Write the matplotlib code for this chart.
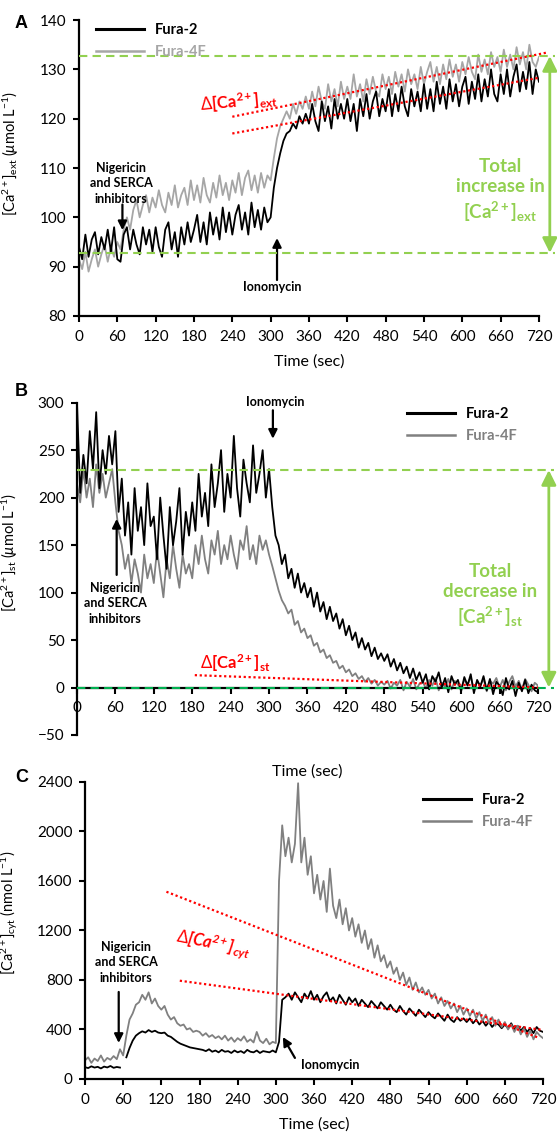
import numpy as np
import matplotlib
matplotlib.use("Agg")
import matplotlib.pyplot as plt
from matplotlib.lines import Line2D

plt.rcParams['font.family'] = ['Lato', 'DejaVu Sans']
plt.rcParams['mathtext.fontset'] = 'custom'
plt.rcParams['mathtext.rm'] = 'Lato'
plt.rcParams['mathtext.it'] = 'Lato:italic'
plt.rcParams['mathtext.bf'] = 'Lato:bold'
plt.rcParams['mathtext.bfit'] = 'Lato:bold:italic'

# one reading every 5 s
time_s = np.arange(0, 721, 5)
time_ticks = np.arange(0, 721, 60)

# extracellular Ca2+ (umol/L)
fura2_ext = [
    94, 91.5, 96.5, 92, 95.5, 97, 92.5, 96, 93.5, 97.5, 93, 98,
    91.5, 91, 96.5, 98, 93.5, 97.5, 94.5, 92.5, 98, 94.5, 97.5, 93,
    98, 94, 92, 97.5, 99, 93.5, 97, 92, 98, 94.5, 99, 95,
    97.5, 100.5, 95, 99, 94.5, 101, 96.5, 100, 95.5, 102, 97, 101,
    96.5, 100.5, 102.5, 97.5, 101, 96.5, 103, 98, 101.5, 97.5, 102, 99,
    100, 106, 110, 113, 115.5, 117, 117.5, 119, 118, 120.5, 119, 121,
    119, 123, 119.5, 117.5, 123.5, 119.5, 122.5, 118, 124, 120, 123, 120,
    124, 119.5, 123, 117.5, 124, 120.5, 125, 120, 123.5, 125.5, 120.5, 124,
    121.5, 126, 120.5, 125, 121.5, 126.5, 122.5, 120.5, 126, 122.5, 125.5, 121.5,
    127, 122, 126, 121.5, 127.5, 123, 126.5, 122, 128, 123.5, 127, 122.5,
    126.5, 128.5, 123, 127.5, 124, 129, 123.5, 128, 124.5, 130, 125, 123.5,
    129, 125, 130, 124.5, 128.5, 131, 125.5, 129.5, 126, 131.5, 125, 130,
    127.5,
]
fura4f_ext = [
    91.5, 89.5, 93, 89, 91.5, 93.5, 90, 92.5, 94.5, 91, 94, 92,
    95, 93.5, 97.5, 100, 97.5, 101.5, 103.5, 100, 102.5, 104.5, 101, 104,
    102, 105.5, 102.5, 101, 105, 102.5, 106.5, 102, 104.5, 106, 102.5, 107.5,
    103.5, 106.5, 103, 108, 104.5, 103, 107, 104, 108.5, 104.5, 107, 103.5,
    107.5, 105, 109, 104.5, 108, 109.5, 105.5, 108.5, 105, 109, 106, 108.5,
    107.5, 112, 116, 118.5, 120, 121.5, 120, 123, 121, 123.5, 122, 124.5,
    122, 125.5, 122.5, 126.5, 123.5, 122, 127, 123.5, 126, 122.5, 127.5, 124,
    126.5, 124, 129, 124.5, 127, 123.5, 128, 125, 128.5, 125.5, 124.5, 129,
    126, 128.5, 125, 129.5, 126.5, 129, 125.5, 130, 127, 129, 126, 130.5,
    127, 129.5, 131.5, 127.5, 130.5, 127, 131, 128, 132, 128.5, 131, 127.5,
    131.5, 129, 132.5, 129.5, 128, 133, 129.5, 132, 129, 133.5, 130.5, 132.5,
    129.5, 134, 130.5, 133, 130, 134.5, 131, 133.5, 130, 135, 131.5, 130.5,
    132.5,
]

# store Ca2+ (umol/L)
fura2_st = [
    300, 205, 245, 215, 270, 230, 290, 210, 250, 225, 265, 235,
    270, 185, 220, 160, 195, 140, 210, 165, 190, 150, 215, 170,
    180, 135, 200, 160, 125, 190, 150, 175, 210, 140, 185, 160,
    195, 165, 225, 180, 205, 170, 235, 190, 215, 250, 185, 225,
    200, 265, 210, 180, 240, 215, 195, 255, 205, 225, 250, 200,
    230, 190, 160, 150, 130, 140, 115, 125, 105, 120, 100, 110,
    95, 105, 85, 100, 80, 90, 72, 85, 70, 78, 62, 72,
    55, 65, 50, 58, 42, 52, 40, 47, 33, 42, 30, 36,
    28, 35, 22, 30, 18, 26, 15, 22, 10, 20, 8, 16,
    5, 14, -2, 12, 6, 16, 0, 10, -5, 12, 3, 8,
    -4, 11, 2, 14, -6, 8, 1, 12, -3, 9, -7, 6,
    2, -8, 10, -2, 7, -9, 5, -4, 8, -6, 3, -3,
    -5,
]
fura4f_st = [
    215, 195, 230, 200, 220, 190, 235, 205, 225, 200, 215, 230,
    195, 165, 150, 125, 140, 110, 135, 120, 100, 140, 115, 130,
    110, 145, 120, 95, 135, 115, 150, 125, 105, 140, 120, 130,
    115, 150, 130, 160, 135, 120, 155, 140, 165, 130, 150, 135,
    160, 140, 125, 155, 145, 170, 135, 150, 130, 160, 145, 155,
    140, 128, 115, 102, 92, 86, 78, 82, 66, 70, 58, 62,
    52, 55, 44, 47, 37, 40, 31, 34, 26, 28, 20, 23,
    16, 19, 12, 15, 9, 12, 6, 10, 4, 8, 2, 6,
    3, 7, -1, 5, 2, 8, -3, 6, 1, 9, -2, 4,
    6, -1, 8, 2, 10, -3, 5, 1, 9, -2, 7, 3,
    -1, 8, 3, 11, -2, 6, 2, 9, -4, 7, 4, 10,
    0, 8, -3, 6, 12, 1, 7, -2, 9, 3, -4, 5,
    2,
]

# cytosolic Ca2+ (nmol/L); nan = recording paused for the addition
fura2_cyt = [
    95, 88, 102, 92, 98, 85, 100, 93, 105, 90, 97, 92,
    np.nan, 175, 250, 310, 350, 370, 385, 375, 395, 380, 390, 375,
    370, 375, 350, 340, 320, 300, 285, 275, 265, 255, 250, 245,
    240, 235, 225, 240, 220, 230, 215, 235, 220, 225, 210, 230,
    215, 225, 210, 235, 220, 215, 230, 210, 225, 220, 215, 230,
    215, 300, 640, 660, 690, 640, 700, 660, 620, 690, 650, 710,
    640, 680, 620, 670, 700, 630, 660, 610, 680, 640, 600, 660,
    620, 650, 590, 640, 610, 580, 630, 600, 570, 620, 590, 560,
    600, 560, 540, 590, 550, 520, 570, 540, 510, 560, 530, 500,
    540, 510, 490, 530, 500, 470, 520, 480, 460, 500, 470, 490,
    460, 490, 450, 480, 440, 470, 430, 460, 420, 450, 440, 410,
    440, 410, 450, 400, 430, 390, 420, 380, 410, 370, 420, 390,
    380,
]
fura4f_cyt = [
    150, 175, 130, 165, 145, 190, 140, 170, 155, 185, 160, 240,
    190, 350, 480, 530, 600, 620, 680, 640, 700, 610, 650, 590,
    560, 590, 520, 480, 500, 450, 430, 440, 400, 410, 380, 390,
    380, 350, 370, 340, 355, 330, 345, 320, 350, 310, 335, 300,
    330, 310, 345, 300, 320, 295, 380, 310, 290, 325, 280, 300,
    290, 1600, 2050, 1800, 1950, 1750, 1900, 2390, 1750, 1950, 1650, 1800,
    1500, 1650, 1450, 1600, 1350, 1700, 1400, 1300, 1450, 1250, 1380, 1200,
    1300, 1150, 1250, 1100, 1200, 1050, 1130, 980, 1080, 950, 1000, 900,
    950, 850, 900, 800, 860, 760, 820, 720, 780, 700, 740, 680,
    720, 650, 690, 610, 660, 590, 630, 570, 610, 540, 590, 520,
    570, 510, 560, 490, 540, 470, 520, 450, 500, 430, 480, 420,
    460, 400, 440, 380, 430, 360, 410, 340, 390, 320, 380, 350,
    330,
]

# linear fits (start/end time, start/end value)
ext_fit_fura4f = ([240, 732], [120.4, 133.4])
ext_fit_fura2 = ([240, 720], [117.0, 128.3])
st_fit = ([184, 720], [13, 0])
cyt_fit_fura4f = ([128, 714], [1513, 331])
cyt_fit_fura2 = ([149, 720], [794, 396])

# resting and final levels used for the total change
ext_levels = (92.8, 132.7)
st_levels = (229, 0)

LIGHT_GREEN = '#92d050'
DARK_GREEN = '#00b050'
RED = '#ff0000'
GRAY_A = '#a6a6a6'
GRAY = '#808080'
TRACE_LW = 1.3

fig = plt.figure(figsize=(5.57, 11.33), dpi=100)


def make_axes(rect, ylim, yticks):
    ax = fig.add_axes(rect)
    ax.set_xlim(0, 720)
    ax.set_ylim(*ylim)
    ax.set_xticks(time_ticks)
    ax.set_yticks(yticks)
    for side in ('top', 'right'):
        ax.spines[side].set_visible(False)
    for side in ('left', 'bottom'):
        ax.spines[side].set_linewidth(1.6)
    ax.tick_params(direction='out', length=4, width=1.5, labelsize=11)
    ax.tick_params(axis='x', pad=6)
    ax.tick_params(axis='y', pad=5)
    ax.set_xlabel('Time (sec)', fontsize=11.5)
    return ax


def add_legend(ax, gray, anchor):
    handles = [Line2D([], [], color='black', lw=2.2),
               Line2D([], [], color=gray, lw=1.8)]
    ax.legend(handles, ['Fura-2', 'Fura-4F'], loc='upper left',
              bbox_to_anchor=anchor, frameon=False, borderpad=0,
              borderaxespad=0, handlelength=3.3, handletextpad=0.75,
              labelspacing=0.55, labelcolor=['black', gray],
              prop={'weight': 'bold', 'size': 10.5})


def note(ax, text, xy, tip, tail):
    ax.annotate('', xy=tip, xytext=tail,
                arrowprops=dict(arrowstyle='-|>', color='black', lw=1.6,
                                mutation_scale=13, shrinkA=0, shrinkB=0),
                annotation_clip=False)
    ax.text(xy[0], xy[1], text, ha='center', va='center', fontsize=9,
            fontweight='bold', linespacing=1.35)


def total_change(ax, x, levels, text, text_xy):
    for lvl in levels:
        if lvl == 0:
            continue
        ax.plot([0, 745], [lvl, lvl], color=LIGHT_GREEN, lw=1.5,
                dashes=(4, 2.5), clip_on=False, zorder=5)
    ax.annotate('', xy=(x, levels[1]), xytext=(x, levels[0]),
                arrowprops=dict(arrowstyle='<|-|>', color=LIGHT_GREEN, lw=2,
                                mutation_scale=22, shrinkA=0, shrinkB=0),
                annotation_clip=False)
    ax.text(text_xy[0], text_xy[1], text, ha='center', va='center',
            color=LIGHT_GREEN, fontsize=13.5, fontweight='bold', linespacing=1.25)


def fit_line(ax, fit):
    ax.plot(fit[0], fit[1], color=RED, lw=1.6, linestyle=(0, (1, 1.2)),
            zorder=6, clip_on=False)


notes_text = 'Nigericin\nand SERCA\ninhibitors'

# ---- A: extracellular ----
axA = make_axes([0.1418, 0.7211, 0.8258, 0.2612], (80, 140), np.arange(80, 141, 10))
axA.plot(time_s, fura4f_ext, color=GRAY_A, lw=TRACE_LW)
axA.plot(time_s, fura2_ext, color='black', lw=TRACE_LW)
fit_line(axA, ext_fit_fura4f)
fit_line(axA, ext_fit_fura2)
axA.text(250, 123.4, r'$\Delta$[Ca$^{\mathbf{2+}}$]$_{\mathbf{ext}}$', color=RED,
         fontsize=12, fontweight='bold', rotation=5, ha='center', va='center')
total_change(axA, 737, ext_levels,
             'Total\nincrease in\n[Ca$^{\\mathbf{2+}}$]$_{\\mathbf{ext}}$', (659, 105.3))
note(axA, notes_text, (66, 106.9), (68, 97.4), (68, 102.6))
note(axA, 'Ionomycin', (302, 85.8), (310, 95.8), (310, 87.3))
add_legend(axA, GRAY_A, (0.037, 0.99))
axA.set_ylabel(r'[Ca$^{2+}$]$_{\rm ext}$ ($\mu$mol L$^{-1}$)', fontsize=10.5)
axA.yaxis.set_label_coords(-0.125, 0.55)
axA.xaxis.set_label_coords(0.5, -0.13)

# ---- B: store ----
axB = make_axes([0.1382, 0.3513, 0.8276, 0.2933], (-50, 300), np.arange(-50, 301, 50))
axB.spines['bottom'].set_position(('data', 0))
axB.plot(time_s, fura4f_st, color=GRAY, lw=TRACE_LW)
axB.plot(time_s, fura2_st, color='black', lw=TRACE_LW)
axB.plot([0, 745], [0, 0], color=DARK_GREEN, lw=1.5, dashes=(4, 2.5),
         clip_on=False, zorder=5)
fit_line(axB, st_fit)
axB.text(247, 26, r'$\Delta$[Ca$^{\mathbf{2+}}$]$_{\mathbf{st}}$', color=RED,
         fontsize=12, fontweight='bold', ha='center', va='center')
total_change(axB, 737, st_levels,
             'Total\ndecrease in\n[Ca$^{\\mathbf{2+}}$]$_{\\mathbf{st}}$', (645, 96.5))
note(axB, notes_text, (60, 89), (62, 177.6), (62, 118.6))
note(axB, 'Ionomycin', (309, 300.7), (306, 262), (306, 292))
add_legend(axB, GRAY, (0.716, 0.987))
axB.set_ylabel(r'[Ca$^{2+}$]$_{\rm st}$ ($\mu$mol L$^{-1}$)', fontsize=10.5)
axB.yaxis.set_label_coords(-0.124, 0.55)
axB.xaxis.set_label_coords(0.5, -0.087)

# ---- C: cytosol ----
axC = make_axes([0.1526, 0.0477, 0.8223, 0.2621], (0, 2400), np.arange(0, 2401, 400))
axC.plot(time_s, fura2_cyt, color='black', lw=TRACE_LW)
axC.plot(time_s, fura4f_cyt, color=GRAY, lw=TRACE_LW)
fit_line(axC, cyt_fit_fura4f)
fit_line(axC, cyt_fit_fura2)
axC.text(201, 1099, r'$\Delta$[Ca$^{\mathbfit{2+}}$]$_{\mathbfit{cyt}}$', color=RED,
         fontsize=12, fontweight='bold', style='italic', rotation=-11,
         ha='center', va='center')
note(axC, notes_text, (65, 945), (53, 291), (53, 703))
note(axC, 'Ionomycin', (385, 113), (311, 339), (330, 170))
add_legend(axC, GRAY, (0.738, 0.963))
axC.set_ylabel(r'[Ca$^{2+}$]$_{\rm cyt}$ (nmol L$^{-1}$)', fontsize=10.5)
axC.yaxis.set_label_coords(-0.142, 0.56)
axC.xaxis.set_label_coords(0.5, -0.128)

for letter, ypix in (('A', 24), ('B', 392), ('C', 777)):
    fig.text(15 / 557, 1 - ypix / 1133, letter, fontsize=13, fontweight='bold',
             family='Liberation Sans', ha='left', va='center')

fig.savefig('out.png', dpi=100)
